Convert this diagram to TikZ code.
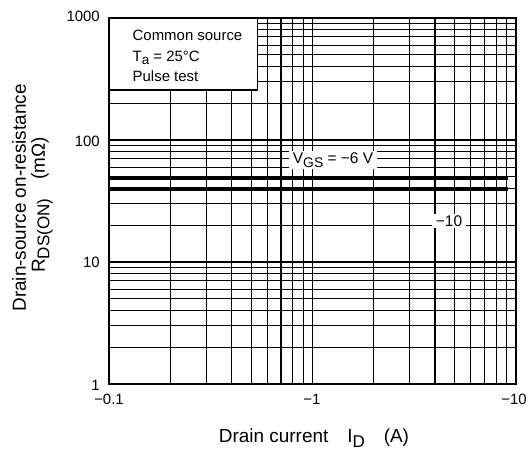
\documentclass[tikz,border=0pt]{standalone}
\usepackage{fontspec}
\setmainfont{Liberation Sans}
\usetikzlibrary{positioning}
\newcommand{\lowsub}[1]{\raisebox{-0.45ex}{\scalebox{0.9}{#1}}}
\tikzset{
  gridline/.style={line width=1.1bp, black},
  frameline/.style={line width=2.7bp, black},
  curveline/.style={line width=3.3bp, black},
  ticklabel/.style={font=\fontsize{15}{18}\selectfont, inner sep=0pt},
  legendtext/.style={font=\fontsize{15}{18}\selectfont, inner sep=0pt, anchor=base west},
  axislabel/.style={font=\fontsize{19}{22}\selectfont, inner sep=0pt},
  curvelabel/.style={fill=white, font=\fontsize{15.5}{18}\selectfont, inner xsep=4bp, inner ysep=1.5bp},
}
\begin{document}
\begin{tikzpicture}[x=1bp,y=-1bp]
\useasboundingbox (0,0) rectangle (529,453);
% grid, log scales
\foreach \d in {0,1} \foreach \m in {1,...,9} {
  \pgfmathsetmacro\gx{109+203.5*(\d+log10(\m))}
  \draw[gridline] (\gx,18) -- (\gx,384);
}
\foreach \d in {0,1,2} \foreach \m in {1,...,9} {
  \pgfmathsetmacro\gy{384-122*(\d+log10(\m))}
  \draw[gridline] (109,\gy) -- (516,\gy);
}
% curves
\coordinate (sixA) at (109,178);  \coordinate (sixB) at (508,178);
\coordinate (tenA) at (109,189);  \coordinate (tenB) at (508,189);
\draw[curveline] (sixA) -- (sixB);
\draw[curveline] (tenA) -- (tenB);
\node[curvelabel] (vgssix) at (333,160) {V\lowsub{GS} = −6 V};
\node[curvelabel] (vgsten) at (449,221) {−10};
% frame
\draw[frameline] (109,18) rectangle (516,384);
% legend
\draw[line width=1.3bp, fill=white] (109,18) rectangle (257.7,90);
\node[legendtext] (lgone) at (132.5,40.7) {Common source};
\node[legendtext] (lgtwo) at (132.5,61.2) {T\lowsub{a} = 25°C};
\node[legendtext] (lgthree) at (132.5,81.5) {Pulse test};
% tick labels
\node[ticklabel, anchor=east] (yone) at (100,385) {1};
\node[ticklabel, anchor=east] (yten) at (100,262) {10};
\node[ticklabel, anchor=east] (yhundred) at (100,141) {100};
\node[ticklabel, anchor=east] (ythousand) at (100,16) {1000};
\node[ticklabel] (xtenth) at (109,399) {−0.1};
\node[ticklabel] (xone) at (312,399) {−1};
\node[ticklabel] (xten) at (514,399) {−10};
% axis titles
\node[axislabel] (xtitle) at (314,438) {Drain current\hspace{1em}I\lowsub{D}\hspace{1em}(A)};
\node[axislabel, rotate=90] (ytitleone) at (19,198) {Drain-source on-resistance};
\node[axislabel, rotate=90] (ytitletwo) at (42,205) {R\lowsub{DS(ON)}\hspace{1em}(mΩ)};
\end{tikzpicture}
\end{document}
